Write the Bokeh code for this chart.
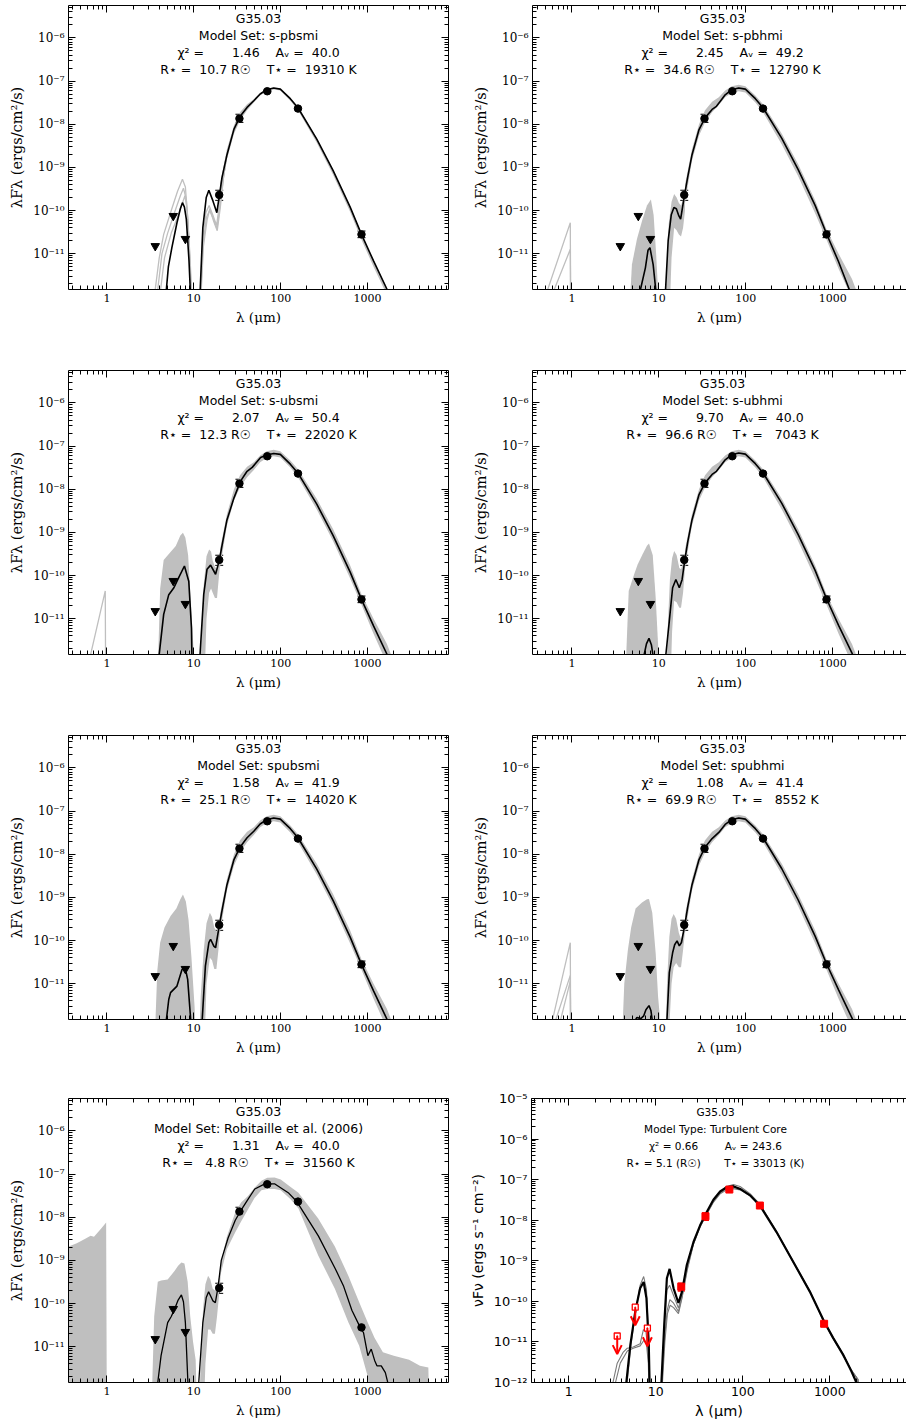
from bokeh.plotting import figure
from bokeh.layouts import column, row
from bokeh.models import (Label, FixedTicker, LogAxis, CustomJSTickFormatter, Whisker,
                          TeeHead, ColumnDataSource, Arrow, OpenHead)
from bokeh.embed import file_html
from bokeh.resources import INLINE

# ---------------- observed photometry (G35.03) ----------------
UL_WL = [3.6, 5.8, 8.0]
UL_F = [1.5e-11, 7.5e-11, 2.2e-11]
DET_WL = [19.6, 33.5, 70.0, 158.0, 850.0]
DET_F = [2.3e-10, 1.35e-8, 5.8e-8, 2.3e-8, 2.8e-11]
DET_HI = [2.95e-10, 1.7e-8, 6.1e-8, 2.4e-8, 3.35e-11]
DET_LO = [1.72e-10, 1.1e-8, 5.5e-8, 2.2e-8, 2.35e-11]

T_UL_WL = [3.6, 5.8, 8.0]
T_UL_F = [1.4e-11, 7.2e-11, 2.2e-11]
T_DET_WL = [19.6, 37.2, 70.0, 157.0, 860.0]
T_DET_F = [2.3e-10, 1.25e-8, 5.7e-8, 2.3e-8, 2.8e-11]
T_DET_HI = [2.8e-10, 1.5e-8, 6.0e-8, 2.4e-8, 3.1e-11]
T_DET_LO = [1.8e-10, 1.0e-8, 5.4e-8, 2.2e-8, 2.45e-11]

# ---------------- panel captions ----------------
MODEL_SETS = ["s-pbsmi", "s-pbhmi", "s-ubsmi", "s-ubhmi", "spubsmi", "spubhmi", "Robitaille et al. (2006)"]
CHI2 = ["1.46", "2.45", "2.07", "9.70", "1.58", "1.08", "1.31"]
AV = ["40.0", "49.2", "50.4", "40.0", "41.9", "41.4", "40.0"]
RSTAR = ["10.7", "34.6", "12.3", "96.6", "25.1", "69.9", "4.8"]
TSTAR = ["19310", "12790", "22020", "7043", "14020", "8552", "31560"]
TC_CHI2, TC_AV, TC_R, TC_T = "0.66", "243.6", "5.1", "33013"

# ---------------- shared far-IR grey band wavelengths ----------------
FIR_BAND_WL = [20, 24, 29, 34, 41, 49, 58, 69, 83, 99, 129, 158, 260, 400, 630, 850, 1170, 1670, 2200]
BAND_A_HI = [4e-10, 2.6e-9, 9.5e-9, 1.9e-8, 2.9e-8, 3.8e-8, 5.2e-8, 6.5e-8, 7.1e-8, 6.7e-8, 4.0e-8, 2.5e-8, 4.7e-9, 8.8e-10, 1.25e-10, 2.9e-11, 7e-12, 1.6e-12, 3e-13]
BAND_A_LO = [1.5e-10, 1.5e-9, 6e-9, 1.2e-8, 2.1e-8, 3.2e-8, 4.6e-8, 5.8e-8, 6.4e-8, 6.0e-8, 3.5e-8, 2.1e-8, 3.7e-9, 6.7e-10, 9.2e-11, 2.1e-11, 5e-12, 1.1e-12, 2e-13]
BAND_B_HI = [4e-10, 2.6e-9, 1.0e-8, 2.1e-8, 3.3e-8, 4.2e-8, 6.0e-8, 7.6e-8, 8.2e-8, 7.6e-8, 4.6e-8, 2.9e-8, 6e-9, 1.2e-9, 1.7e-10, 3.7e-11, 1e-11, 2.6e-12, 6e-13]
BAND_B_LO = [1.5e-10, 1.4e-9, 5.5e-9, 1.1e-8, 1.9e-8, 2.8e-8, 4.2e-8, 5.3e-8, 5.8e-8, 5.4e-8, 3.2e-8, 1.9e-8, 3.4e-9, 6.3e-10, 8.5e-11, 2.1e-11, 4.5e-12, 9e-13, 2e-13]

# ---------------- panel 1: s-pbsmi ----------------
P1_BLACK_WL = [4.75, 5.1, 5.6, 6.4, 7.0, 7.4, 7.8, 8.2, 8.8, 9.1, 9.4, 11.5, 11.85, 12.7, 13.9, 14.9, 16.6, 18.4, 19.8, 21.1,
               24, 29, 34, 41, 49, 58, 69, 83, 99, 129, 158, 260, 400, 630, 850, 1170, 1670, 2200]
P1_BLACK_F = [1.0e-12, 5e-12, 1.4e-11, 5.2e-11, 1.1e-10, 1.52e-10, 1.2e-10, 6.3e-11, 7e-12, 1.5e-12, 1e-13, 1e-13, 1.5e-12, 4e-11, 2e-10, 2.96e-10, 1.67e-10, 8.9e-11, 2.4e-10, 5.8e-10,
              1.9e-9, 7.7e-9, 1.5e-8, 2.45e-8, 3.5e-8, 5e-8, 6.3e-8, 6.9e-8, 6.5e-8, 3.9e-8, 2.4e-8, 4.5e-9, 8.5e-10, 1.2e-10, 2.8e-11, 6.8e-12, 1.5e-12, 3e-13]
P1_GREY_WL = [
    [3.55, 4.0, 4.5, 5.5, 6.5, 7.4, 8.0, 8.6, 9.2, 9.5, 11.6, 12.0, 12.6, 13.8, 15.0, 16.5, 18.3, 19.8, 21.5, 24],
    [3.8, 4.3, 5.0, 6.0, 7.0, 7.6, 8.2, 8.8, 9.3, 9.6, 11.7, 12.1, 12.7, 14.0, 15.2, 17.0, 18.5, 20.0, 22.0, 24],
    [4.1, 4.6, 5.5, 6.5, 7.4, 7.9, 8.4, 9.0, 9.4, 9.7, 11.8, 12.2, 12.9, 14.2, 15.3, 17.0, 18.6, 20.2, 22.0, 24],
]
P1_GREY_F = [
    [1.2e-12, 8e-12, 2.8e-11, 1e-10, 2.8e-10, 5.3e-10, 3.5e-10, 5e-11, 2e-12, 1e-13, 1e-13, 1.5e-12, 2e-11, 9e-11, 1.3e-10, 8e-11, 4.5e-11, 1.5e-10, 7e-10, 2e-9],
    [1.2e-12, 1e-11, 3e-11, 9e-11, 2.2e-10, 3.3e-10, 1.8e-10, 2e-11, 1.5e-12, 1e-13, 1e-13, 1.5e-12, 1.5e-11, 7e-11, 1e-10, 6e-11, 3.8e-11, 1.3e-10, 6e-10, 2e-9],
    [1.2e-12, 8e-12, 3e-11, 7e-11, 1.5e-10, 2.2e-10, 1e-10, 1e-11, 1.5e-12, 1e-13, 1e-13, 1.5e-12, 1.5e-11, 6e-11, 1.1e-10, 5.5e-11, 3.4e-11, 1.2e-10, 6e-10, 2e-9],
]

# ---------------- panel 2: s-pbhmi ----------------
P2_BLACK_WL = [6.0, 7.0, 7.5, 7.9, 8.6, 9.2, 9.6, 11.7, 11.95, 12.8, 13.9, 14.9, 15.9, 17.0, 17.8, 19.7, 21.5, 24, 29, 34,
               41, 46, 52, 58, 69, 83, 99, 129, 158, 260, 400, 630, 850, 1170, 1550, 2200]
P2_BLACK_F = [1.2e-12, 4.7e-12, 1.2e-11, 1.38e-11, 5.6e-12, 1.5e-12, 1e-13, 1e-13, 1.5e-12, 2e-11, 8e-11, 1.17e-10, 1.1e-10, 7.5e-11, 6.3e-11, 2.2e-10, 6e-10, 1.9e-9, 7.5e-9, 1.4e-8,
              2.2e-8, 2.6e-8, 3.6e-8, 4.8e-8, 6.3e-8, 6.9e-8, 6.5e-8, 3.9e-8, 2.4e-8, 4.7e-9, 9e-10, 1.3e-10, 2.9e-11, 6.5e-12, 1.5e-12, 2e-13]
P2_MID_WL = [4.4, 4.9, 5.6, 6.4, 7.3, 8.1, 8.7, 9.3, 9.7, 10.1]
P2_MID_HI = [1e-13, 5.6e-12, 2.2e-11, 5.7e-11, 1.3e-10, 1.8e-10, 8e-11, 1e-11, 2e-12, 1e-13]
P2_SIL_WL = [11.7, 12.3, 13.0, 14.0, 15.0, 16.0, 17.0, 18.0, 19.0, 20.0]
P2_SIL_HI = [1e-13, 5e-12, 5e-11, 1.6e-10, 2.4e-10, 2.0e-10, 1.5e-10, 1.3e-10, 1.8e-10, 3.2e-10]
P2_SIL_LO = [1e-13, 1e-13, 1e-13, 8e-12, 4e-11, 3.5e-11, 2.8e-11, 2.5e-11, 4e-11, 1e-10]
P2_NIR_WL = [[0.515, 0.957, 0.97], [0.61, 0.957, 0.97]]
P2_NIR_F = [[1.3e-12, 5.2e-11, 1e-13], [1.3e-12, 1.26e-11, 1e-13]]

# ---------------- panel 3: s-ubsmi ----------------
P3_BLACK_WL = [3.95, 4.5, 5.15, 5.9, 6.7, 7.8, 8.75, 9.4, 9.7, 11.6, 11.8, 13.0, 14.2, 15.6, 17.8, 19.7, 21.5, 24, 29, 34.5,
               41, 47, 58.7, 69, 83, 99, 129, 158, 260, 400, 630, 850, 1170, 1670, 2200]
P3_BLACK_F = [1.2e-12, 1.26e-11, 3.6e-11, 5.2e-11, 8.9e-11, 1.66e-10, 7.4e-11, 6e-12, 1e-13, 1e-13, 1.5e-12, 3.6e-11, 1.4e-10, 1.74e-10, 1.07e-10, 2.3e-10, 6e-10, 1.9e-9, 6.3e-9, 1.54e-8,
              2.6e-8, 3.2e-8, 5.4e-8, 6.2e-8, 6.7e-8, 6.4e-8, 3.8e-8, 2.35e-8, 4.5e-9, 8.5e-10, 1.2e-10, 2.8e-11, 6.8e-12, 1.5e-12, 3e-13]
P3_MID_WL = [3.75, 4.1, 4.5, 4.9, 5.4, 6.2, 7.0, 7.5, 8.0, 8.6, 9.3, 10.0, 10.4]
P3_MID_HI = [1e-13, 5e-11, 2.3e-10, 2.8e-10, 3.5e-10, 4.8e-10, 8.5e-10, 9.8e-10, 7.5e-10, 3e-10, 2e-11, 1.5e-12, 1e-13]
P3_SIL_WL = [11.6, 12.2, 13.0, 14.0, 15.0, 15.8, 16.5, 17.5, 18.5, 19.5, 20.5]
P3_SIL_HI = [1e-13, 3e-12, 6e-11, 2.8e-10, 4e-10, 3.6e-10, 2.2e-10, 1.6e-10, 1.4e-10, 2.5e-10, 5e-10]
P3_SIL_LO = [1e-13, 1e-13, 1e-13, 1e-11, 4e-11, 5e-11, 4e-11, 3e-11, 3e-11, 1e-10, 3e-10]
P3_NIR_WL = [[0.64, 0.957, 0.97]]
P3_NIR_F = [[1.3e-12, 4.4e-11, 1e-13]]

# ---------------- panel 4: s-ubhmi ----------------
P4_BLACK_WL = [6.5, 7.2, 7.7, 8.2, 8.8, 11.9, 12.05, 13.2, 14.4, 15.7, 17.2, 18.5, 19.9, 21.5, 24, 29, 34, 41, 46, 52,
               58, 69, 83, 99, 129, 158, 260, 400, 630, 850, 1170, 1670, 2200]
P4_BLACK_F = [1e-12, 2.6e-12, 3.5e-12, 2.5e-12, 1e-12, 1e-13, 1.5e-12, 8.9e-12, 5.2e-11, 8.1e-11, 5.2e-11, 8e-11, 2.3e-10, 6e-10, 1.9e-9, 7.5e-9, 1.4e-8, 2.2e-8, 2.6e-8, 3.6e-8,
              4.8e-8, 6.3e-8, 6.9e-8, 6.5e-8, 3.9e-8, 2.4e-8, 4.7e-9, 9e-10, 1.3e-10, 2.9e-11, 7e-12, 1.6e-12, 3e-13]
P4_MID_WL = [4.0, 4.5, 5.2, 5.7, 6.5, 7.3, 7.7, 8.5, 9.2, 9.8, 10.1]
P4_MID_HI = [1e-13, 4.4e-11, 1.07e-10, 1.8e-10, 3.1e-10, 4.9e-10, 5.5e-10, 3e-10, 3e-11, 2.5e-12, 1e-13]
P4_SIL_WL = [12.0, 12.6, 13.4, 14.2, 15.0, 16.0, 17.2, 18.0, 19.0, 20.0, 21.0]
P4_SIL_HI = [1e-13, 5e-12, 8e-11, 2.5e-10, 3.7e-10, 3e-10, 1.5e-10, 1.4e-10, 2e-10, 3.5e-10, 6e-10]
P4_SIL_LO = [1e-13, 1e-13, 1e-13, 5e-12, 2.6e-11, 2.4e-11, 1.8e-11, 1.8e-11, 4e-11, 1.5e-10, 4e-10]

# ---------------- panel 5: spubsmi ----------------
P5_BLACK_WL = [4.8, 5.15, 5.4, 6.4, 7.3, 7.9, 8.5, 9.2, 9.5, 12.2, 12.5, 13.6, 14.9, 15.6, 17.0, 17.8, 19.7, 21.5, 24, 29,
               34, 41, 49, 58, 69, 83, 99, 129, 158, 260, 400, 630, 850, 1170, 1670, 2200]
P5_BLACK_F = [1.3e-12, 4.3e-12, 6.2e-12, 8.8e-12, 2.1e-11, 2.5e-11, 1.26e-11, 1.5e-12, 1e-13, 1e-13, 1.5e-12, 2.6e-11, 8.9e-11, 1.07e-10, 7.4e-11, 6.8e-11, 2.3e-10, 6e-10, 1.9e-9, 7.5e-9,
              1.45e-8, 2.4e-8, 3.4e-8, 5e-8, 6.3e-8, 6.9e-8, 6.5e-8, 3.9e-8, 2.4e-8, 4.5e-9, 8.5e-10, 1.2e-10, 2.8e-11, 6.8e-12, 1.5e-12, 3e-13]
P5_MID_WL = [3.45, 3.8, 4.1, 4.6, 5.4, 6.3, 7.0, 7.5, 8.1, 8.7, 9.4, 10.2, 10.9]
P5_MID_HI = [1e-13, 2e-11, 9e-11, 2e-10, 3.7e-10, 5.5e-10, 9e-10, 1.17e-9, 8e-10, 3e-10, 4e-11, 3e-12, 1e-13]
P5_SIL_WL = [11.3, 12.0, 13.0, 14.0, 15.3, 16.2, 17.2, 18.2, 19.2, 20.5]
P5_SIL_HI = [1e-13, 5e-12, 6e-11, 2.5e-10, 4.4e-10, 3.5e-10, 2e-10, 1.6e-10, 2.2e-10, 5e-10]
P5_SIL_LO = [1e-13, 1e-13, 1e-13, 1e-11, 4e-11, 3.5e-11, 2.2e-11, 2.2e-11, 6e-11, 3e-10]

# ---------------- panel 6: spubhmi ----------------
P6_BLACK_WL = [5.2, 5.6, 6.2, 6.7, 7.1, 7.7, 8.1, 8.4, 8.6, 12.0, 12.4, 13.2, 14.4, 15.2, 16.2, 17.2, 18.2, 19.9, 21.5, 24,
               29, 34, 41, 49, 58, 69, 83, 99, 129, 158, 260, 400, 630, 850, 1170, 1670, 2200]
P6_BLACK_F = [1.3e-12, 1.65e-12, 1.55e-12, 1.8e-12, 2.5e-12, 3.1e-12, 2.4e-12, 1.4e-12, 1e-13, 1e-13, 1.5e-12, 1.8e-11, 5.2e-11, 8e-11, 9.8e-11, 7.5e-11, 9e-11, 2.3e-10, 6e-10, 1.9e-9,
              7.5e-9, 1.45e-8, 2.3e-8, 3.2e-8, 4.9e-8, 6.3e-8, 6.9e-8, 6.5e-8, 3.9e-8, 2.4e-8, 4.6e-9, 8.8e-10, 1.25e-10, 2.9e-11, 7.2e-12, 1.6e-12, 3e-13]
P6_MID_WL = [3.65, 4.0, 4.4, 4.8, 5.4, 6.4, 7.3, 7.7, 8.4, 9.2, 9.8, 10.2, 10.5]
P6_MID_HI = [1e-13, 1e-11, 6e-11, 2e-10, 5.5e-10, 7.6e-10, 9e-10, 9.2e-10, 4.4e-10, 5e-11, 5e-12, 2e-12, 1e-13]
P6_SIL_WL = [11.8, 12.4, 13.2, 14.0, 14.8, 15.8, 17.0, 18.0, 19.0, 20.0, 21.0]
P6_SIL_HI = [1e-13, 1e-11, 1.2e-10, 3.2e-10, 4.1e-10, 3.2e-10, 1.5e-10, 1.07e-10, 1.6e-10, 3.2e-10, 6e-10]
P6_SIL_LO = [1e-13, 1e-13, 1e-12, 1e-11, 2.4e-11, 3e-11, 2.4e-11, 2.4e-11, 6e-11, 1.6e-10, 4e-10]
P6_NIR_WL = [[0.59, 0.957, 0.97], [0.64, 0.957, 0.97], [0.73, 0.957, 0.97]]
P6_NIR_F = [[1.3e-12, 8.9e-11, 1e-13], [1.3e-12, 1.56e-11, 1e-13], [1.3e-12, 1.15e-11, 1e-13]]

# ---------------- panel 7: Robitaille et al. (2006) ----------------
P7_BLACK_WL = [3.8, 4.2, 5.0, 5.5, 6.0, 6.6, 7.2, 7.6, 8.0, 8.55, 8.8, 11.2, 11.4, 12.7, 13.9, 14.8, 16.6, 17.7, 19.0, 20.7,
               24.8, 30, 35.3, 42, 50.3, 65.6, 85.7, 122, 152, 271, 423, 530, 659, 822, 898, 1007, 1101, 1204, 1280, 1436,
               1600, 1750, 1850]
P7_BLACK_F = [1.2e-12, 6.2e-12, 3.6e-11, 5e-11, 7.4e-11, 1.2e-10, 1.58e-10, 1.1e-10, 3.6e-11, 1.5e-12, 1e-13, 1e-13, 1.5e-12, 3.6e-11, 1.38e-10, 1.87e-10, 1.15e-10, 1.05e-10, 2.4e-10, 1e-9,
              3.3e-9, 8.5e-9, 1.5e-8, 2.6e-8, 4.5e-8, 5.9e-8, 5.9e-8, 3.7e-8, 2.35e-8, 3.7e-9, 6.5e-10, 2.5e-10, 7e-11, 2.8e-11, 2.1e-11, 6.2e-12, 8.8e-12, 4.8e-12, 3.6e-12, 3.6e-12,
              2.5e-12, 1.2e-12, 1e-13]
P7_NIR_WL = [0.3, 0.45, 0.55, 0.65, 0.71, 0.85, 0.98, 1.0]
P7_NIR_HI = [1.8e-9, 2.5e-9, 3.1e-9, 3.7e-9, 3.5e-9, 5.3e-9, 7.5e-9, 1e-13]
P7_MID_WL = [3.2, 3.5, 3.85, 4.2, 5.0, 6.0, 6.6, 7.2, 7.8, 8.5, 9.1, 9.8, 10.5, 11.1]
P7_MID_HI = [1e-13, 5e-11, 3.2e-10, 3.4e-10, 3.6e-10, 5.7e-10, 7.5e-10, 8.9e-10, 8.5e-10, 3.2e-10, 5e-11, 1.3e-11, 5e-12, 1e-13]
P7_SIL_WL = [11.4, 12.0, 12.8, 13.6, 14.6, 15.5, 16.5, 17.5, 18.5, 19.5, 20.5]
P7_SIL_HI = [1e-13, 5e-12, 8e-11, 2.8e-10, 4.4e-10, 3.6e-10, 2.2e-10, 2e-10, 2.6e-10, 4e-10, 9e-10]
P7_SIL_LO = [1e-13, 1e-13, 1e-13, 4e-12, 2.5e-11, 2.5e-11, 2e-11, 2e-11, 5e-11, 1.5e-10, 5e-10]
P7_FIR_WL = [20.5, 24, 30, 35, 42, 50, 60, 70, 85, 100, 130, 160, 270, 420, 600, 800, 1000, 1200, 1500, 2000, 3000, 4000, 5000, 5200]
P7_FIR_HI = [9e-10, 3.5e-9, 1.3e-8, 2.2e-8, 3.1e-8, 4.8e-8, 7e-8, 8.2e-8, 8.3e-8, 7.5e-8, 5e-8, 3.7e-8, 9.3e-9, 2.1e-9, 4.4e-10, 1.07e-10, 3.7e-11, 1.6e-11, 7.4e-12, 6.2e-12, 5e-12, 3.6e-12, 3.3e-12, 1e-13]
P7_FIR_LO = [5e-10, 1.8e-9, 4.5e-9, 8e-9, 1.5e-8, 2.8e-8, 4.2e-8, 4.5e-8, 4.5e-8, 4.2e-8, 2.6e-8, 1.6e-8, 1.3e-9, 2.2e-10, 3.7e-11, 1.05e-11, 2.1e-12, 1e-13, 1e-13, 1e-13, 1e-13, 1e-13, 1e-13, 1e-13]

# ---------------- panel 8: Turbulent Core ----------------
T_BLACK_WL = [4.5, 5.1, 5.8, 6.6, 7.25, 7.8, 8.3, 8.5, 11.3, 11.5, 12.5, 13.4, 14.4, 16.0, 18.2, 20.0, 22.7, 27.1, 32.3, 38.5,
              45.9, 54.8, 65.3, 77.8, 92.9, 121, 157, 244, 379, 589, 860, 1091, 1420, 1770, 2020, 2200]
T_BLACK_F = [7e-13, 8.6e-12, 5.6e-11, 2.1e-10, 3e-10, 1.2e-10, 8.6e-12, 7e-13, 1e-13, 7e-13, 2.7e-11, 3.7e-10, 6.3e-10, 2.1e-10, 9.1e-11, 1.74e-10, 7.9e-10, 2.9e-9, 7.5e-9, 1.6e-8,
             3.2e-8, 5.1e-8, 6.5e-8, 6.9e-8, 5.9e-8, 4.1e-8, 2.3e-8, 5.1e-9, 9.5e-10, 1.74e-10, 3.2e-11, 1.26e-11, 4.9e-12, 1.9e-12, 1e-12, 1e-13]
T_GREY_WL = [
    [4.6, 5.2, 5.9, 6.6, 7.25, 7.8, 8.3, 8.5, 11.3, 11.6, 12.5, 13.4, 14.4, 16.0, 18.2, 20, 22.7, 27, 32, 38.5,
     46, 55, 65, 78, 93, 121, 157, 244, 379, 589, 860, 1091, 1420, 1770, 2100, 2300],
    [3.1, 3.6, 4.2, 4.7, 5.5, 6.6, 7.2, 7.7, 8.1, 8.4, 8.6, 11.4, 11.7, 12.6, 13.5, 14.5, 16, 18.2, 20, 23,
     27, 32, 38.5, 46, 55, 65, 78, 93, 121, 157, 244, 379, 589, 860, 1091, 1420, 1770, 2100, 2300],
    [3.3, 3.9, 4.7, 5.5, 6.6, 7.3, 7.8, 8.2, 8.5, 11.4, 11.8, 12.7, 13.6, 14.6, 16, 18.2, 20, 23, 27, 32,
     38.5, 46, 55, 65, 78, 93, 121, 157, 244, 379, 589, 860, 1091, 1420, 1770, 2100, 2300],
]
T_GREY_F = [
    [7e-13, 9e-12, 6e-11, 2.5e-10, 4.1e-10, 2e-10, 1e-11, 7e-13, 1e-13, 7e-13, 2.2e-11, 1.9e-10, 2.5e-10, 1.4e-10, 6.8e-11, 1.5e-10, 7e-10, 2.7e-9, 7e-9, 1.5e-8,
     3e-8, 5e-8, 6.8e-8, 7.6e-8, 6.8e-8, 4.5e-8, 2.5e-8, 5.3e-9, 9.8e-10, 1.8e-10, 3e-11, 1.2e-11, 4.5e-12, 2e-12, 1.2e-12, 1e-13],
    [7e-13, 3e-12, 5.5e-12, 7e-12, 7.5e-12, 9e-12, 2e-11, 1.8e-11, 6e-12, 1.5e-12, 1e-13, 1e-13, 7e-13, 1.2e-11, 6e-11, 1.1e-10, 9e-11, 5.6e-11, 1.3e-10, 6.5e-10,
     2.6e-9, 6.8e-9, 1.4e-8, 2.8e-8, 4.5e-8, 5.6e-8, 6e-8, 5.6e-8, 4e-8, 2.3e-8, 5e-9, 9.2e-10, 1.7e-10, 3.3e-11, 1.3e-11, 5e-12, 2e-12, 1.2e-12, 1e-13],
    [7e-13, 3e-12, 6e-12, 7e-12, 8e-12, 1.1e-11, 9e-12, 3e-12, 1e-13, 1e-13, 7e-13, 1e-11, 5e-11, 8e-11, 7e-11, 5e-11, 1.2e-10, 6e-10, 2.5e-9, 6.5e-9,
     1.45e-8, 2.9e-8, 4.7e-8, 6e-8, 6.5e-8, 6.1e-8, 4.2e-8, 2.4e-8, 5.2e-9, 9.5e-10, 1.8e-10, 3.1e-11, 1.25e-11, 4.8e-12, 2e-12, 1.2e-12, 1e-13],
]

# ---------------- axes ticks ----------------
X_MAJOR = [1, 10, 100, 1000]
X_MINOR = [m * 10.0 ** e for e in range(-1, 4) for m in range(2, 10)]
Y_MAJOR_SED = [1e-11, 1e-10, 1e-9, 1e-8, 1e-7, 1e-6]
Y_MAJOR_TC = [1e-12, 1e-11, 1e-10, 1e-9, 1e-8, 1e-7, 1e-6, 1e-5]
Y_MINOR = [m * 10.0 ** e for e in range(-13, -4) for m in range(2, 10)]

GREY = "#bfbfbf"
TGREY = "#7a7a7a"
FLOOR = 1e-13
SERIF = "DejaVu Serif"
SANS = "DejaVu Sans"
NB = "\u00a0"

SUP_JS = """
const m = {"-": "\u207b", "0": "\u2070", "1": "\u00b9", "2": "\u00b2", "3": "\u00b3",
           "4": "\u2074", "5": "\u2075", "6": "\u2076", "7": "\u2077", "8": "\u2078", "9": "\u2079"};
const e = Math.round(Math.log10(tick));
return "10" + String(e).split("").map(c => m[c]).join("");
"""
XFMT_JS = "return tick >= 1 ? String(Math.round(tick)) : String(tick);"
EMPTY_JS = "return '';"

RIGHT_FW = 374
XL_LEFT = (-0.442, -0.442 + 380 / 86.9)
XL_RIGHT = (-0.454, -0.454 + RIGHT_FW / 86.9)
XL_TC = (-0.429, -0.429 + (RIGHT_FW + 1) / 87.0)
YL_SED = (-11.83, -5.25)
YL_TC = (-12.0, -5.0)


def style_axis(ax, font, size, tick_in=7, minor_in=4):
    ax.major_tick_in = tick_in
    ax.major_tick_out = 0
    ax.minor_tick_in = minor_in
    ax.minor_tick_out = 0
    ax.axis_line_color = "black"
    ax.major_tick_line_color = "black"
    ax.minor_tick_line_color = "black"
    ax.major_label_text_font = font
    ax.major_label_text_font_size = size
    ax.major_label_text_color = "black"
    ax.axis_label_text_font = font
    ax.axis_label_text_font_style = "normal"
    ax.axis_label_text_color = "black"
    ax.major_label_standoff = 4


def make_fig(col, frame_h, top_b, bot_b, xl, yl, ymajor, font, xtick_size, ytick_size, xlab_size, ylab_size,
             xlab, ylab, left_b=None, frame_w=None, right_axis=True):
    if col == 0:
        fw, lb, rb = 380, 68, 10
    else:
        fw, lb, rb = RIGHT_FW, 74, 0
    if left_b is not None:
        lb = left_b
    if frame_w is not None:
        fw = frame_w
    p = figure(x_axis_type="log", y_axis_type="log",
               x_range=(10 ** xl[0], 10 ** xl[1]), y_range=(10 ** yl[0], 10 ** yl[1]),
               frame_width=fw, frame_height=frame_h,
               min_border_left=lb, min_border_right=rb, min_border_top=top_b, min_border_bottom=bot_b,
               output_backend="svg", toolbar_location=None)
    p.grid.visible = False
    p.outline_line_color = None
    p.background_fill_color = "white"
    p.border_fill_color = "white"
    xt = FixedTicker(ticks=X_MAJOR, minor_ticks=X_MINOR)
    yt = FixedTicker(ticks=ymajor, minor_ticks=Y_MINOR)
    xa, ya = p.xaxis[0], p.yaxis[0]
    xa.ticker = xt
    ya.ticker = yt
    xa.formatter = CustomJSTickFormatter(code=XFMT_JS)
    ya.formatter = CustomJSTickFormatter(code=SUP_JS)
    style_axis(xa, font, xtick_size)
    style_axis(ya, font, ytick_size)
    xa.axis_label = xlab
    ya.axis_label = ylab
    xa.axis_label_text_font_size = xlab_size
    ya.axis_label_text_font_size = ylab_size
    xa.axis_label_standoff = 4
    ya.axis_label_standoff = 5
    top = LogAxis(ticker=xt, formatter=CustomJSTickFormatter(code=EMPTY_JS))
    style_axis(top, font, "0px")
    top.major_label_standoff = 0
    p.add_layout(top, "above")
    if right_axis:
        rgt = LogAxis(ticker=yt, formatter=CustomJSTickFormatter(code=EMPTY_JS))
        style_axis(rgt, font, "0px")
        rgt.major_label_standoff = 0
        p.add_layout(rgt, "right")
    return p


def add_caption(p, lines, xc_log, yl, frame_h, offsets, font, size):
    ppd = frame_h / (yl[1] - yl[0])
    for text, off in zip(lines, offsets):
        p.add_layout(Label(x=10 ** xc_log, y=10 ** (yl[1] - off / ppd), text=text,
                           text_align="center", text_baseline="middle",
                           text_font=font, text_font_size=size, text_color="black"))


def sed_panel(idx, col, frame_h, top_b, bot_b, black_wl, black_f, bands, lines_wl=None, lines_f=None,
              black_width=1.6):
    xl = XL_LEFT if col == 0 else XL_RIGHT
    p = make_fig(col, frame_h, top_b, bot_b, xl, YL_SED, Y_MAJOR_SED, SERIF, "11px", "12px", "13.5px", "14.5px",
                 "λ (μm)", "λFλ (ergs/cm²/s)", right_axis=(col == 0))
    for wl, lo, hi in bands:
        p.varea(x=wl, y1=lo, y2=hi, fill_color=GREY, fill_alpha=1.0)
    if lines_wl:
        p.multi_line(xs=lines_wl, ys=lines_f, line_color=GREY, line_width=1.3)
    p.line(black_wl, black_f, line_color="black", line_width=black_width)
    p.scatter(UL_WL, UL_F, marker="inverted_triangle", size=8.5, color="black")
    src = ColumnDataSource(dict(x=DET_WL, y=DET_F, lo=DET_LO, hi=DET_HI))
    p.add_layout(Whisker(source=src, base="x", lower="lo", upper="hi", dimension="height",
                         line_color="black", line_width=1,
                         upper_head=TeeHead(size=8, line_color="black", line_width=1),
                         lower_head=TeeHead(size=8, line_color="black", line_width=1)))
    p.scatter("x", "y", source=src, marker="circle", size=7.5, color="black")
    chi = CHI2[idx]
    av = AV[idx]
    rs = RSTAR[idx]
    ts = TSTAR[idx]
    l3 = ("χ² = " + chi.rjust(10) + "    Aᵥ = " + av.rjust(5)).replace(" ", NB)
    l4 = ("R⋆ = " + rs.rjust(5) + " R☉    T⋆ = " + ts.rjust(6) + " K").replace(" ", NB)
    lines = ["G35.03", "Model Set: " + MODEL_SETS[idx], l3, l4]
    xc = xl[0] + 190 / 86.9
    add_caption(p, lines, xc, YL_SED, frame_h, [12.5, 29.5, 47, 64], SANS, "12.5px")
    return p


def tc_panel(frame_h, top_b, bot_b):
    p = make_fig(1, frame_h, top_b, bot_b, XL_TC, YL_TC, Y_MAJOR_TC, SANS, "12.5px", "13px", "14.5px", "14px",
                 "λ (μm)", "νFν (ergs s⁻¹ cm⁻²)", left_b=73, frame_w=RIGHT_FW + 1, right_axis=False)
    p.multi_line(xs=T_GREY_WL, ys=T_GREY_F, line_color=TGREY, line_width=1.1)
    p.line(T_BLACK_WL, T_BLACK_F, line_color="black", line_width=2.2)
    src = ColumnDataSource(dict(x=T_DET_WL, y=T_DET_F, lo=T_DET_LO, hi=T_DET_HI))
    p.add_layout(Whisker(source=src, base="x", lower="lo", upper="hi", dimension="height",
                         line_color="red", line_width=1.5,
                         upper_head=TeeHead(size=7, line_color="red", line_width=1.5),
                         lower_head=TeeHead(size=7, line_color="red", line_width=1.5)))
    p.scatter("x", "y", source=src, marker="square", size=7, color="red")
    usrc = ColumnDataSource(dict(x=T_UL_WL, y=T_UL_F, ye=[f / 2.8 for f in T_UL_F]))
    p.add_layout(Arrow(source=usrc, x_start="x", y_start="y", x_end="x", y_end="ye",
                       line_color="red", line_width=2,
                       end=OpenHead(size=9, line_color="red", line_width=2)))
    p.scatter("x", "y", source=usrc, marker="square_dot", size=6, line_color="red",
              fill_color="white", line_width=1.3)
    l3 = ("χ² = " + TC_CHI2 + "        Aᵥ = " + TC_AV).replace(" ", NB)
    l4 = ("R⋆ = " + TC_R + " (R☉)       T⋆ = " + TC_T + " (K)").replace(" ", NB)
    lines = ["G35.03", "Model Type: Turbulent Core", l3, l4]
    add_caption(p, lines, XL_TC[0] + 184 / 87.0, YL_TC, frame_h, [13, 30, 47, 64], SANS, "10.5px")
    return p


# row geometry: (frame height, top border, bottom border)
R1 = (284, 5, 40)
R2 = (284, 41, 40)
R3 = (284, 41, 40)
R4 = (284, 39, 38)

p1 = sed_panel(0, 0, *R1, P1_BLACK_WL, P1_BLACK_F,
               [(FIR_BAND_WL, BAND_A_LO, BAND_A_HI)], P1_GREY_WL, P1_GREY_F)
p2 = sed_panel(1, 1, *R1, P2_BLACK_WL, P2_BLACK_F,
               [(P2_MID_WL, FLOOR, P2_MID_HI), (P2_SIL_WL, P2_SIL_LO, P2_SIL_HI),
                (FIR_BAND_WL, BAND_B_LO, BAND_B_HI)], P2_NIR_WL, P2_NIR_F)
p3 = sed_panel(2, 0, *R2, P3_BLACK_WL, P3_BLACK_F,
               [(P3_MID_WL, FLOOR, P3_MID_HI), (P3_SIL_WL, P3_SIL_LO, P3_SIL_HI),
                (FIR_BAND_WL, BAND_B_LO, BAND_B_HI)], P3_NIR_WL, P3_NIR_F)
p4 = sed_panel(3, 1, *R2, P4_BLACK_WL, P4_BLACK_F,
               [(P4_MID_WL, FLOOR, P4_MID_HI), (P4_SIL_WL, P4_SIL_LO, P4_SIL_HI),
                (FIR_BAND_WL, BAND_B_LO, BAND_B_HI)])
p5 = sed_panel(4, 0, *R3, P5_BLACK_WL, P5_BLACK_F,
               [(P5_MID_WL, FLOOR, P5_MID_HI), (P5_SIL_WL, P5_SIL_LO, P5_SIL_HI),
                (FIR_BAND_WL, BAND_B_LO, BAND_B_HI)])
p6 = sed_panel(5, 1, *R3, P6_BLACK_WL, P6_BLACK_F,
               [(P6_MID_WL, FLOOR, P6_MID_HI), (P6_SIL_WL, P6_SIL_LO, P6_SIL_HI),
                (FIR_BAND_WL, BAND_B_LO, BAND_B_HI)], P6_NIR_WL, P6_NIR_F)
p7 = sed_panel(6, 0, *R4, P7_BLACK_WL, P7_BLACK_F,
               [(P7_NIR_WL, FLOOR, P7_NIR_HI), (P7_MID_WL, FLOOR, P7_MID_HI),
                (P7_SIL_WL, P7_SIL_LO, P7_SIL_HI), (P7_FIR_WL, P7_FIR_LO, P7_FIR_HI)],
               black_width=1.3)
p8 = tc_panel(*R4)

layout = column(row(p1, p2), row(p3, p4), row(p5, p6), row(p7, p8))
open("out.html", "w").write(file_html(layout, INLINE))
